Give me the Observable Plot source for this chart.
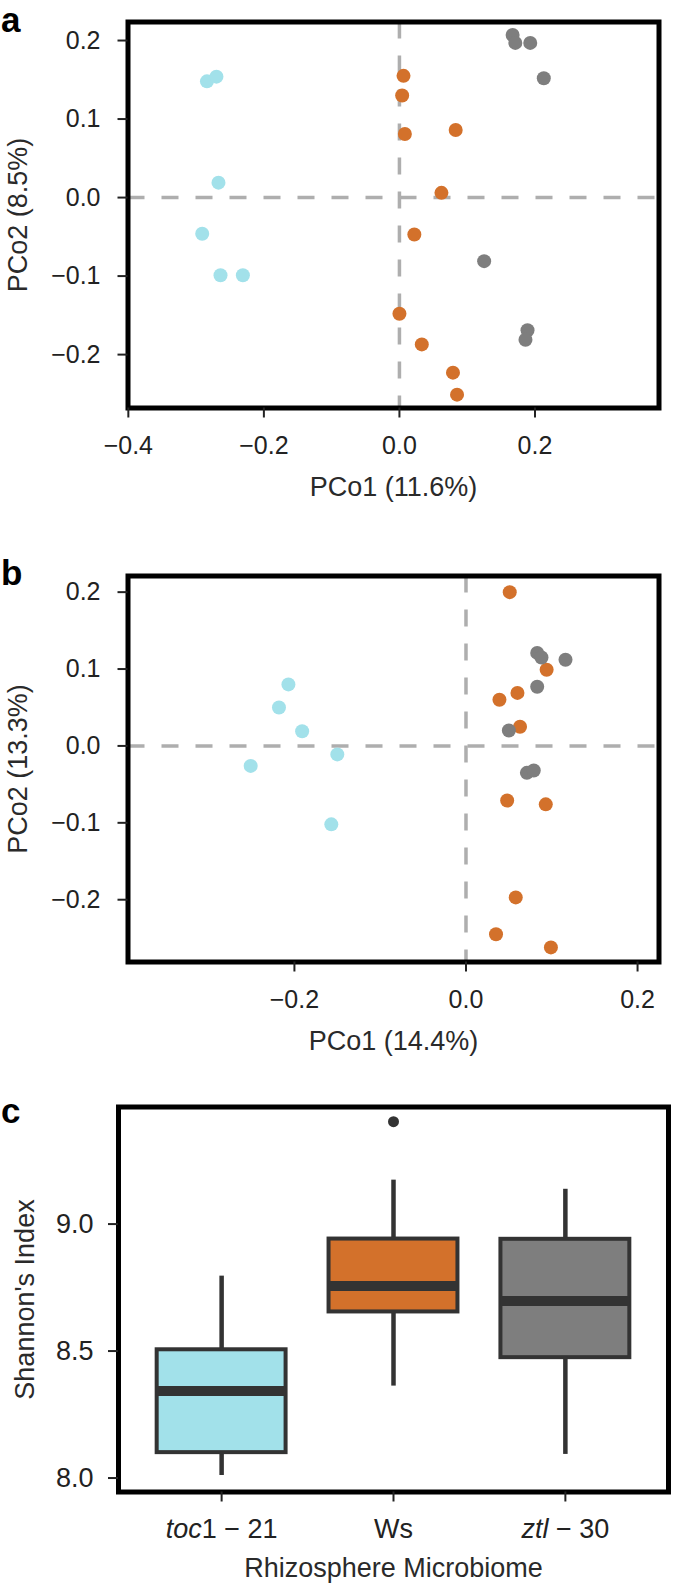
<!DOCTYPE html>
<html><head><meta charset="utf-8">
<script src="https://cdn.jsdelivr.net/npm/d3@7"></script>
<script src="https://cdn.jsdelivr.net/npm/@observablehq/plot@0.6"></script>
<style>
html,body{margin:0;padding:0;background:#fff;overflow:hidden;}
#wrap{position:relative;width:674px;height:1588px;}
#wrap > div{position:absolute;left:0;}
</style></head><body>
<div id="wrap"><div id="pa" style="top:0px"></div><div id="pb" style="top:554px"></div><div id="pc" style="top:1084.5px"></div></div>
<script>
// ---------- data ----------
const groups = ["toc1-21", "Ws", "ztl-30"];
const groupColors = ["#A2E1EA", "#D3712B", "#7E7E7E"];

// panel a : PCo1 (11.6%) vs PCo2 (8.5%)
const aTocX = [-0.284, -0.270, -0.267, -0.291, -0.264, -0.231];
const aTocY = [0.148, 0.154, 0.019, -0.046, -0.099, -0.099];
const aWsX  = [0.006, 0.004, 0.008, 0.083, 0.062, 0.022, 0.000, 0.033, 0.079, 0.085];
const aWsY  = [0.155, 0.130, 0.081, 0.086, 0.006, -0.047, -0.148, -0.187, -0.223, -0.251];
const aZtlX = [0.167, 0.171, 0.193, 0.213, 0.125, 0.189, 0.186];
const aZtlY = [0.207, 0.197, 0.197, 0.152, -0.081, -0.169, -0.181];
const aXTicks = [-0.4, -0.2, 0.0, 0.2];
const aYTicks = [-0.2, -0.1, 0.0, 0.1, 0.2];

// panel b : PCo1 (14.4%) vs PCo2 (13.3%)
const bTocX = [-0.207, -0.218, -0.191, -0.150, -0.251, -0.157];
const bTocY = [0.080, 0.050, 0.019, -0.011, -0.026, -0.102];
const bWsX  = [0.051, 0.094, 0.039, 0.060, 0.063, 0.048, 0.093, 0.058, 0.035, 0.099];
const bWsY  = [0.200, 0.099, 0.060, 0.069, 0.025, -0.071, -0.076, -0.197, -0.245, -0.262];
const bZtlX = [0.083, 0.088, 0.116, 0.083, 0.050, 0.071, 0.079];
const bZtlY = [0.121, 0.115, 0.112, 0.077, 0.020, -0.035, -0.032];
const bXTicks = [-0.2, 0.0, 0.2];
const bYTicks = [-0.2, -0.1, 0.0, 0.1, 0.2];

// panel c : Shannon's index boxplots
const cLower  = [8.010, 8.362, 8.093];
const cQ1     = [8.100, 8.654, 8.474];
const cMedian = [8.343, 8.756, 8.697];
const cQ3     = [8.505, 8.941, 8.940];
const cUpper  = [8.795, 9.173, 9.137];
const cOutlierGroup = ["Ws"];
const cOutlierValue = [9.403];
const cYTicks = [8.0, 8.5, 9.0];
const cTickLabels = {
  "toc1-21": [["toc", true], ["1 \u2212 21", false]],
  "Ws": [["Ws", false]],
  "ztl-30": [["ztl", true], [" \u2212 30", false]]
};

// ---------- drawing ----------
const FONT = "'Liberation Sans', Arial, Helvetica, sans-serif";
const INK = "#222";
const fmt = d3.format(".1f");
const colorScale = {domain: groups, range: groupColors};

function rowsOf(xs, ys, g) { return xs.map((x, i) => ({x, y: ys[i], g})); }

function scatter(series, opt) {
  const rows = series.flatMap(([xs, ys, g]) => rowsOf(xs, ys, g));
  const dash = {stroke: "#AEAEAE", strokeWidth: 3.5, strokeDasharray: "17,17"};
  return Plot.plot({
    width: 674, height: 510,
    marginTop: 21.5, marginLeft: 127.5, marginRight: 15.5, marginBottom: 102.5,
    style: {fontFamily: FONT, background: "white", color: INK, overflow: "visible"},
    x: {domain: opt.xDomain},
    y: {domain: opt.yDomain},
    color: colorScale,
    marks: [
      Plot.ruleY([0], dash),
      Plot.ruleX([0], dash),
      Plot.dot(rows, {x: "x", y: "y", r: 7, fill: "g", stroke: null}),
      Plot.frame({stroke: "black", strokeWidth: 5}),
      Plot.axisX(opt.xTicks, {tickSize: 10, tickPadding: 18, fontSize: 25, tickFormat: fmt, strokeWidth: 2, label: null, color: INK}),
      Plot.axisY(opt.yTicks, {tickSize: 10, tickPadding: 17.5, fontSize: 25, tickFormat: fmt, strokeWidth: 2, label: null, color: INK}),
      Plot.text([opt.xLabel], {frameAnchor: "bottom", dy: 79.5, lineAnchor: "middle", textAnchor: "middle", fontSize: 27, fill: "#2a2a2a"}),
      Plot.text([opt.yLabel], {frameAnchor: "left", dx: -109.5, rotate: -90, lineAnchor: "middle", textAnchor: "middle", fontSize: 27, fill: "#2a2a2a"}),
      Plot.text([opt.letter], {frameAnchor: "top-left", dx: -127, dy: opt.letterDy, lineAnchor: "top", textAnchor: "start", fontSize: 35, fontWeight: "bold", fill: "black"})
    ]
  });
}

const plotA = scatter(
  [[aTocX, aTocY, "toc1-21"], [aWsX, aWsY, "Ws"], [aZtlX, aZtlY, "ztl-30"]],
  {xDomain: [-0.4005, 0.383], yDomain: [-0.268, 0.2236], xTicks: aXTicks, yTicks: aYTicks,
   xLabel: "PCo1 (11.6%)", yLabel: "PCo2 (8.5%)", letter: "a", letterDy: -14.8}
);
document.getElementById("pa").appendChild(plotA);

const plotB = scatter(
  [[bTocX, bTocY, "toc1-21"], [bWsX, bWsY, "Ws"], [bZtlX, bZtlY, "ztl-30"]],
  {xDomain: [-0.394, 0.225], yDomain: [-0.281, 0.221], xTicks: bXTicks, yTicks: bYTicks,
   xLabel: "PCo1 (14.4%)", yLabel: "PCo2 (13.3%)", letter: "b", letterDy: -15.4}
);
document.getElementById("pb").appendChild(plotB);

// boxplot
const boxes = groups.map((g, i) => ({g, pos: i + 1, lo: cLower[i], q1: cQ1[i], med: cMedian[i], q3: cQ3[i], hi: cUpper[i]}));
const outliers = cOutlierGroup.map((g, i) => ({pos: groups.indexOf(g) + 1, v: cOutlierValue[i]}));
const HALF = 0.375;
const plotC = Plot.plot({
  width: 674, height: 503.5,
  marginTop: 21.5, marginLeft: 118, marginRight: 6, marginBottom: 97,
  style: {fontFamily: FONT, background: "white", color: INK, overflow: "visible"},
  x: {domain: [0.4, 3.6]},
  y: {domain: [7.945, 9.461]},
  color: colorScale,
  marks: [
    Plot.ruleX(boxes, {x: "pos", y1: "q3", y2: "hi", stroke: "#333", strokeWidth: 4.5}),
    Plot.ruleX(boxes, {x: "pos", y1: "lo", y2: "q1", stroke: "#333", strokeWidth: 4.5}),
    Plot.rect(boxes, {x1: d => d.pos - HALF, x2: d => d.pos + HALF, y1: "q1", y2: "q3", fill: "g", stroke: "#333", strokeWidth: 4}),
    Plot.ruleY(boxes, {y: "med", x1: d => d.pos - HALF, x2: d => d.pos + HALF, stroke: "#333", strokeWidth: 10}),
    Plot.dot(outliers, {x: "pos", y: "v", r: 5.5, fill: "#333", stroke: null}),
    Plot.frame({stroke: "black", strokeWidth: 5}),
    Plot.axisX([1, 2, 3], {tickSize: 10, tickPadding: 17, fontSize: 27, tickFormat: d => groups[d - 1], strokeWidth: 2, label: null, color: INK}),
    Plot.axisY(cYTicks, {tickSize: 10, tickPadding: 15, fontSize: 27, tickFormat: fmt, strokeWidth: 2, label: null, color: INK}),
    Plot.text(["Rhizosphere Microbiome"], {frameAnchor: "bottom", dy: 76, lineAnchor: "middle", textAnchor: "middle", fontSize: 27, fill: "#2a2a2a"}),
    Plot.text(["Shannon's Index"], {frameAnchor: "left", dx: -93, rotate: -90, lineAnchor: "middle", textAnchor: "middle", fontSize: 27, fill: "#2a2a2a"}),
    Plot.text(["c"], {frameAnchor: "top-left", dx: -117.5, dy: -8.6, lineAnchor: "top", textAnchor: "start", fontSize: 35, fontWeight: "bold", fill: "black"})
  ]
});
document.getElementById("pc").appendChild(plotC);

// rich (partly italic) group labels
d3.select(plotC).selectAll('g[aria-label="x-axis tick label"] text').each(function() {
  const name = this.textContent;
  const parts = cTickLabels[name];
  if (!parts) return;
  const sel = d3.select(this);
  sel.text(null);
  parts.forEach(([t, it]) => {
    const ts = sel.append("tspan").text(t);
    if (it) ts.attr("font-style", "italic");
  });
});
</script>
</body></html>
